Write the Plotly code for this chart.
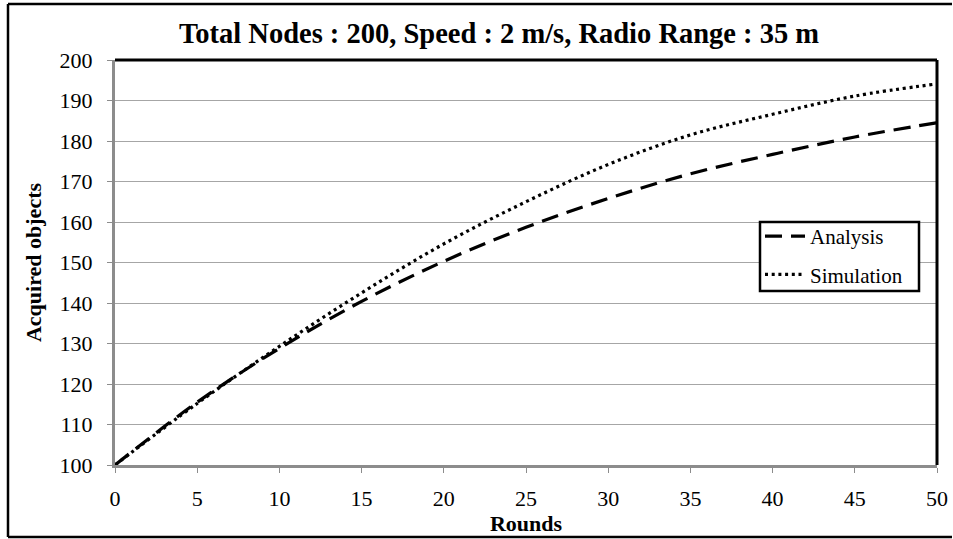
import plotly.graph_objects as go

rounds = [0, 5, 10, 15, 20, 25, 30, 35, 40, 45, 50]
analysis = [100, 115.5, 128.8, 140.4, 150.3, 158.7, 165.8, 171.9, 176.7, 181.0, 184.5]
simulation = [100, 115.2, 129.3, 142.5, 154.6, 165.0, 174.2, 181.5, 186.6, 191.1, 194.1]

x_ticks = list(range(0, 51, 5))
y_ticks = list(range(100, 201, 10))

FONT = "Liberation Serif"

fig = go.Figure()
fig.add_trace(go.Scatter(x=rounds, y=analysis, name="Analysis", mode="lines", legendgroup="a",
                         line=dict(color="black", width=3.2, dash="17px,9px", shape="spline")))
fig.add_trace(go.Scatter(x=rounds, y=simulation, name="Simulation", mode="lines", legendgroup="s",
                         line=dict(color="black", width=3.2, dash="3px,3.7px", shape="spline")))

L, R, T, B = 115, 16, 60, 74
W, H = 953, 539
pw, ph = W - L - R, H - T - B

def px(x):
    return (x - L) / pw

def py(y):
    return (H - B - y) / ph

fig.update_layout(
    width=W, height=H,
    margin=dict(l=L, r=R, t=T, b=B, autoexpand=False),
    paper_bgcolor="white", plot_bgcolor="white",
    font=dict(family=FONT, color="black", size=22),
    title=dict(text="<b>Total Nodes : 200, Speed : 2 m/s, Radio Range : 35 m</b>",
               x=499 / W, xanchor="center", y=1 - 33 / H, yanchor="middle",
               font=dict(family=FONT, size=28.5, color="black")),
    showlegend=True,
    legend=dict(x=px(760), y=py(216), xanchor="left", yanchor="top",
                borderwidth=0, bgcolor="rgba(0,0,0,0)",
                font=dict(family=FONT, size=21, color="black"),
                tracegroupgap=8, itemwidth=40),
    xaxis=dict(range=[0, 50], tickvals=x_ticks, ticktext=[str(v) for v in x_ticks],
               automargin=False,
               showgrid=False, zeroline=False,
               showline=True, linecolor="#8c8c8c", linewidth=3,
               ticks="outside", ticklen=5, tickcolor="#8c8c8c", tickwidth=1,
               ticklabelstandoff=7,
               title=dict(text="<b>Rounds</b>", font=dict(family=FONT, size=22), standoff=4)),
    yaxis=dict(range=[100, 200], tickvals=y_ticks, ticktext=[str(v) for v in y_ticks],
               automargin=False,
               showgrid=True, gridcolor="#a6a6a6", gridwidth=1, zeroline=False,
               showline=True, linecolor="#8c8c8c", linewidth=3,
               ticks="outside", ticklen=5, tickcolor="#8c8c8c", tickwidth=1,
               ticklabelstandoff=10,
               title=dict(text="<b>Acquired objects</b>", font=dict(family=FONT, size=22), standoff=12)),
    shapes=[
        # plot frame top/right (black)
        dict(type="line", xref="paper", yref="paper", x0=0, x1=1, y0=1, y1=1,
             line=dict(color="black", width=3)),
        dict(type="line", xref="paper", yref="paper", x0=1, x1=1, y0=0, y1=1,
             line=dict(color="black", width=3)),
        # legend box
        dict(type="rect", xref="paper", yref="paper", layer="above",
             x0=px(760), x1=px(919), y0=py(291), y1=py(222),
             fillcolor="white", line=dict(color="black", width=2.5)),
        # outer chart border (top, left, bottom)
        dict(type="line", xref="paper", yref="paper", x0=px(8), x1=px(952), y0=py(4), y1=py(4),
             line=dict(color="black", width=2.5)),
        dict(type="line", xref="paper", yref="paper", x0=px(8), x1=px(952), y0=py(537), y1=py(537),
             line=dict(color="black", width=2.5)),
        dict(type="line", xref="paper", yref="paper", x0=px(8), x1=px(8), y0=py(537), y1=py(4),
             line=dict(color="black", width=2.5)),
    ],
)

post = (
    "var h=document.documentElement, b=document.body;"
    "h.style.margin='0'; h.style.padding='0'; h.style.overflow='hidden';"
    "b.style.margin='0'; b.style.padding='0'; b.style.overflow='hidden';"
)

fig.write_html("out.html", config={"displayModeBar": False}, post_script=post)
